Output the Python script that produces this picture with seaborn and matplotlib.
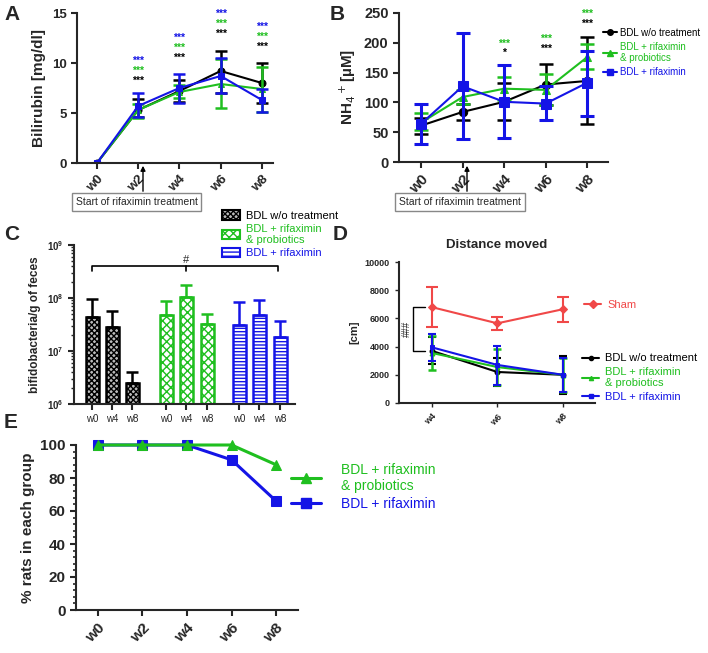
import numpy as np
import pandas as pd
import matplotlib
matplotlib.use('Agg')
import matplotlib.pyplot as plt
import seaborn as sns

sns.set_style('ticks')
plt.rcParams['font.family'] = ['Liberation Sans', 'DejaVu Sans']

# colours
BLACK = '#000000'
GREEN = '#1fbf1f'
BLUE = '#1414e6'
RED = '#f04848'

# ---- data: panel A (bilirubin)
weeks = ['w0', 'w2', 'w4', 'w6', 'w8']
a_bdl = [0, 5.3, 7.2, 9.2, 8.0]
a_bdl_lo = [0, 4.6, 6.1, 7.0, 6.0]
a_bdl_hi = [0, 6.4, 8.3, 11.2, 10.0]
a_rp = [0, 5.3, 7.1, 7.9, 7.4]
a_rp_lo = [0, 4.5, 6.5, 5.5, 5.1]
a_rp_hi = [0, 5.9, 7.8, 10.4, 9.6]
a_r = [0, 5.7, 7.5, 8.7, 6.3]
a_r_lo = [0, 4.6, 6.0, 7.0, 5.1]
a_r_hi = [0, 7.0, 8.9, 10.5, 7.4]
a_star_y = [8.2, 10.5, 12.9, 11.6]   # black *** height at w2..w8

# ---- data: panel B (ammonia)
b_bdl = [61, 84, 101, 130, 136]
b_bdl_lo = [47, 71, 71, 95, 63]
b_bdl_hi = [74, 98, 132, 165, 209]
b_rp = [66, 109, 123, 121, 176]
b_rp_lo = [53, 98, 104, 96, 156]
b_rp_hi = [83, 120, 143, 147, 198]
b_r = [64, 127, 101, 98, 133]
b_r_lo = [30, 39, 41, 71, 78]
b_r_hi = [98, 216, 162, 127, 187]
b_star_green = [198, 206, 248]   # at w4, w6, w8
b_star_black = [183, 190, 232]
b_star_black_txt = ['*', '***', '***']

# ---- data: panel C (bifidobacteria)
c_groups = ['BDL w/o treatment', 'BDL + rifaximin\n& probiotics', 'BDL + rifaximin']
c_weeks = ['w0', 'w4', 'w8']
c_bdl = [4.3e7, 2.8e7, 2.5e6]
c_bdl_hi = [9.5e7, 5.8e7, 4.0e6]
c_rp = [4.7e7, 1.05e8, 3.2e7]
c_rp_hi = [8.7e7, 1.75e8, 5.0e7]
c_r = [3.1e7, 4.7e7, 1.8e7]
c_r_hi = [8.5e7, 9.0e7, 3.7e7]

# ---- data: panel D (distance moved)
d_weeks = ['w4', 'w6', 'w8']
d_sham = [6800, 5650, 6650]
d_sham_lo = [5400, 5200, 5750]
d_sham_hi = [8200, 6100, 7550]
d_bdl = [3700, 2200, 2000]
d_bdl_lo = [2800, 1200, 650]
d_bdl_hi = [4700, 3200, 3350]
d_rp = [3550, 2550, 2000]
d_rp_lo = [2350, 1250, 800]
d_rp_hi = [4750, 3850, 3200]
d_r = [3950, 2700, 2000]
d_r_lo = [2950, 1300, 800]
d_r_hi = [4900, 4050, 3200]

# ---- data: panel E (survival)
e_rp = [100, 100, 100, 100, 88]
e_r = [100, 100, 100, 91, 66]

W, H = 708, 653
fig = plt.figure(figsize=(W / 100, H / 100), dpi=100)


def px_axes(l, t, r, b):
    return fig.add_axes([l / W, 1 - b / H, (r - l) / W, (b - t) / H])


def fig_xy(x, y):
    return (x / W, 1 - y / H)


def style_axes(ax, fs=8):
    sns.despine(ax=ax)
    ax.spines['left'].set_linewidth(1.5)
    ax.spines['bottom'].set_linewidth(1.5)
    ax.tick_params(width=1.5, length=4, labelsize=fs)
    for lab in ax.get_yticklabels():
        lab.set_fontweight('bold')


def series(ax, x, y, lo, hi, color, marker, ms, lw=1.5, cap=4, elw=1.8):
    sns.lineplot(x=x, y=y, ax=ax, color=color, marker=marker, markersize=ms,
                 markeredgecolor=color, linewidth=lw)
    yerr = [np.array(y) - np.array(lo), np.array(hi) - np.array(y)]
    ax.errorbar(x, y, yerr=yerr, fmt='none', ecolor=color, elinewidth=elw,
                capsize=cap, capthick=elw)


def week_ticks(ax, labels, fs=8):
    ax.set_xticks(range(len(labels)))
    ax.set_xticklabels(labels, rotation=45, ha='right', rotation_mode='anchor',
                       fontweight='bold', fontsize=fs)


xs = list(range(5))

# ================= Panel A
axA = px_axes(77, 13, 273, 163)
series(axA, xs, a_bdl, a_bdl_lo, a_bdl_hi, BLACK, 'o', 5)
series(axA, xs, a_rp, a_rp_lo, a_rp_hi, GREEN, '^', 5)
series(axA, xs, a_r, a_r_lo, a_r_hi, BLUE, 's', 5)
axA.set_xlim(-0.485, 4.27)
axA.set_ylim(0, 15)
axA.set_yticks([0, 5, 10, 15])
week_ticks(axA, weeks, fs=9.5)
style_axes(axA, fs=9.5)
axA.set_ylabel('Bilirubin [mg/dl]', fontweight='bold', fontsize=11)
for i, yb in enumerate(a_star_y):
    for k, c in enumerate([BLACK, GREEN, BLUE]):
        axA.text(i + 1, yb + k * 1.0, '***', color=c, ha='center', va='center',
                 fontsize=7.5, fontweight='bold')

# ================= Panel B
axB = px_axes(399, 13, 608, 162)
series(axB, xs, b_bdl, b_bdl_lo, b_bdl_hi, BLACK, 'o', 6, cap=5)
series(axB, xs, b_rp, b_rp_lo, b_rp_hi, GREEN, '^', 6, cap=5)
series(axB, xs, b_r, b_r_lo, b_r_hi, BLUE, 's', 7, cap=5, elw=2.2)
axB.set_xlim(-0.53, 4.5)
axB.set_ylim(0, 250)
axB.set_yticks([0, 50, 100, 150, 200, 250])
week_ticks(axB, weeks, fs=10)
style_axes(axB, fs=10.5)
axB.set_ylabel('NH$_4$$^+$[µM]', fontweight='bold', fontsize=11)
for i in range(3):
    axB.text(i + 2, b_star_green[i], '***', color=GREEN, ha='center', va='center',
             fontsize=7.5, fontweight='bold')
    axB.text(i + 2, b_star_black[i], b_star_black_txt[i], color=BLACK, ha='center',
             va='center', fontsize=7.5, fontweight='bold')
legB = [
    plt.Line2D([], [], color=BLACK, marker='o', markersize=4, lw=1.5),
    plt.Line2D([], [], color=GREEN, marker='^', markersize=4, lw=1.5),
    plt.Line2D([], [], color=BLUE, marker='s', markersize=4, lw=1.5),
]
fig.legend(legB, ['BDL w/o treatment', 'BDL + rifaximin\n& probiotics', 'BDL + rifaximin'],
           loc='upper left', bbox_to_anchor=fig_xy(599, 24), frameon=False, fontsize=7,
           labelcolor='linecolor', handlelength=1.4, handletextpad=0.4,
           labelspacing=0.4, borderaxespad=0)

# treatment-start boxes with arrows
for bx0, bx1, ax_x in [(73, 200, 143), (398, 522, 467)]:
    fig.text(*fig_xy((bx0 + bx1) / 2, 202), 'Start of rifaximin treatment',
             ha='center', va='center', fontsize=7.5,
             bbox=dict(boxstyle='square,pad=0.35', fc='white', ec='#888888', lw=1))
    fig.add_artist(matplotlib.patches.FancyArrowPatch(
        fig_xy(ax_x, 194), fig_xy(ax_x, 163), transform=fig.transFigure,
        arrowstyle='-|>', mutation_scale=7, color='black', lw=1))

# ================= Panel C
axC = px_axes(74, 245, 295, 404)
c_pos = [0, 1, 2, 3.7, 4.7, 5.75, 7.35, 8.35, 9.4]
c_vals = c_bdl + c_rp + c_r
c_hi = c_bdl_hi + c_rp_hi + c_r_hi
c_grp = [g for g in c_groups for _ in c_weeks]
dfC = pd.DataFrame({'pos': c_pos, 'val': c_vals, 'grp': c_grp})
sns.barplot(data=dfC, x='pos', y='val', native_scale=True, width=0.65,
            color='white', ax=axC, errorbar=None)
axC.set_yscale('log')
edge_cols = [BLACK] * 3 + [GREEN] * 3 + [BLUE] * 3
hatches = ['xxxxxx'] * 3 + ['xxxx'] * 3 + ['-----'] * 3
for p, ec, h in zip(axC.patches, edge_cols, hatches):
    p.set_edgecolor(ec)
    p.set_hatch(h)
    p.set_linewidth(1.8)
    p.set_facecolor('white' if ec != BLACK else '#bbbbbb')
for p, v, hi, ec in zip(c_pos, c_vals, c_hi, edge_cols):
    axC.errorbar([p], [v], yerr=[[0], [hi - v]], fmt='none', ecolor=ec,
                 elinewidth=1.8, capsize=4, capthick=1.8)
axC.set_ylim(1e6, 1e9)
axC.set_xlim(-0.9, 10.15)
axC.set_xticks(c_pos)
axC.set_xticklabels(c_weeks * 3, fontsize=8)
axC.tick_params(axis='x', length=0)
style_axes(axC, fs=7)
axC.tick_params(axis='y', which='minor', length=2, width=1)
axC.set_xlabel('')
axC.set_ylabel('bifidobacteria/g of feces', fontweight='bold', fontsize=8.5)
# bracket with #
axC.plot([0, 0, 9.3, 9.3], [3.2e8, 4.0e8, 4.0e8, 3.2e8], color='black', lw=1.2,
         clip_on=False)
axC.plot([4.7, 4.7], [4.0e8, 3.3e8], color='black', lw=1.2)
axC.text(4.7, 5.3e8, '#', ha='center', va='center', fontsize=8)
legC = [
    matplotlib.patches.Patch(facecolor='#bbbbbb', edgecolor=BLACK, hatch='xxxxxx', lw=1.5),
    matplotlib.patches.Patch(facecolor='white', edgecolor=GREEN, hatch='xxxx', lw=1.5),
    matplotlib.patches.Patch(facecolor='white', edgecolor=BLUE, hatch='----', lw=1.5),
]
lc = fig.legend(legC, c_groups, loc='upper left', bbox_to_anchor=fig_xy(218, 206),
                frameon=False, fontsize=8, handlelength=1.6, handleheight=0.9,
                handletextpad=0.5, labelspacing=0.25, borderaxespad=0)
for t, c in zip(lc.get_texts(), [BLACK, GREEN, BLUE]):
    t.set_color(c)

# ================= Panel D
axD = px_axes(399, 262, 595, 403)
dx = [0, 1, 2]
series(axD, dx, d_sham, d_sham_lo, d_sham_hi, RED, 'D', 4, cap=4, elw=1.5)
series(axD, dx, d_bdl, d_bdl_lo, d_bdl_hi, BLACK, 'o', 3.5, cap=3, elw=1.5)
series(axD, dx, d_rp, d_rp_lo, d_rp_hi, GREEN, '^', 3.5, cap=3, elw=1.8)
series(axD, dx, d_r, d_r_lo, d_r_hi, BLUE, 's', 3.5, cap=3, elw=1.5)
axD.set_xlim(-0.5, 2.49)
axD.set_ylim(0, 10000)
axD.set_yticks([0, 2000, 4000, 6000, 8000, 10000])
week_ticks(axD, d_weeks, fs=6)
style_axes(axD, fs=6.5)
axD.tick_params(width=1, length=3)
axD.set_ylabel('[cm]', fontweight='bold', fontsize=8)
axD.set_title('Distance moved', fontweight='bold', fontsize=9.5, pad=10)
# ### bracket
axD.plot([-0.1, -0.28, -0.28, -0.1], [6800, 6800, 3700, 3700], color='black', lw=1,
         clip_on=False)
axD.text(-0.38, 5250, '###', rotation=90, ha='center', va='center', fontsize=7)
legS = fig.legend([plt.Line2D([], [], color=RED, marker='D', markersize=4, lw=1.5)],
                  ['Sham'], loc='center left', bbox_to_anchor=fig_xy(580, 305),
                  frameon=False, fontsize=8, labelcolor='linecolor', handlelength=1.5,
                  handletextpad=0.6, borderaxespad=0)
legD = [
    plt.Line2D([], [], color=BLACK, marker='o', markersize=3, lw=1.5),
    plt.Line2D([], [], color=GREEN, marker='^', markersize=3, lw=1.5),
    plt.Line2D([], [], color=BLUE, marker='s', markersize=3, lw=1.5),
]
fig.legend(legD, ['BDL w/o treatment', 'BDL + rifaximin\n& probiotics', 'BDL + rifaximin'],
           loc='upper left', bbox_to_anchor=fig_xy(578, 349), frameon=False, fontsize=8,
           labelcolor='linecolor', handlelength=1.5, handletextpad=0.5,
           labelspacing=0.3, borderaxespad=0)

# ================= Panel E
axE = px_axes(76, 445, 298, 610)
sns.lineplot(x=xs, y=e_r, ax=axE, color=BLUE, marker='s', markersize=7,
             markeredgecolor=BLUE, linewidth=2.2, clip_on=False)
sns.lineplot(x=xs, y=e_rp, ax=axE, color=GREEN, marker='^', markersize=7,
             markeredgecolor=GREEN, linewidth=2.2, clip_on=False)
axE.set_xlim(-0.49, 4.49)
axE.set_ylim(0, 100)
axE.set_yticks([0, 20, 40, 60, 80, 100])
axE.set_yticks(np.arange(0, 101, 4), minor=True)
week_ticks(axE, weeks, fs=11)
style_axes(axE, fs=11)
axE.tick_params(axis='y', which='minor', length=2.5, width=1.2)
axE.set_ylabel('% rats in each group', fontweight='bold', fontsize=11)
legE = [
    plt.Line2D([], [], color=GREEN, marker='^', markersize=7, lw=2.2),
    plt.Line2D([], [], color=BLUE, marker='s', markersize=7, lw=2.2),
]
fig.legend(legE, ['BDL + rifaximin\n& probiotics', 'BDL + rifaximin'],
           loc='upper left', bbox_to_anchor=fig_xy(285, 457), frameon=False, fontsize=10,
           labelcolor='linecolor', handlelength=2.2, handletextpad=1.4,
           labelspacing=0.3, borderaxespad=0)

# panel letters
for letter, x, y in [('A', 4, 14), ('B', 330, 14), ('C', 4, 235), ('D', 333, 235),
                     ('E', 4, 422)]:
    fig.text(*fig_xy(x, y), letter, fontsize=15, fontweight='bold', va='center')

fig.savefig('out.png', dpi=100)
